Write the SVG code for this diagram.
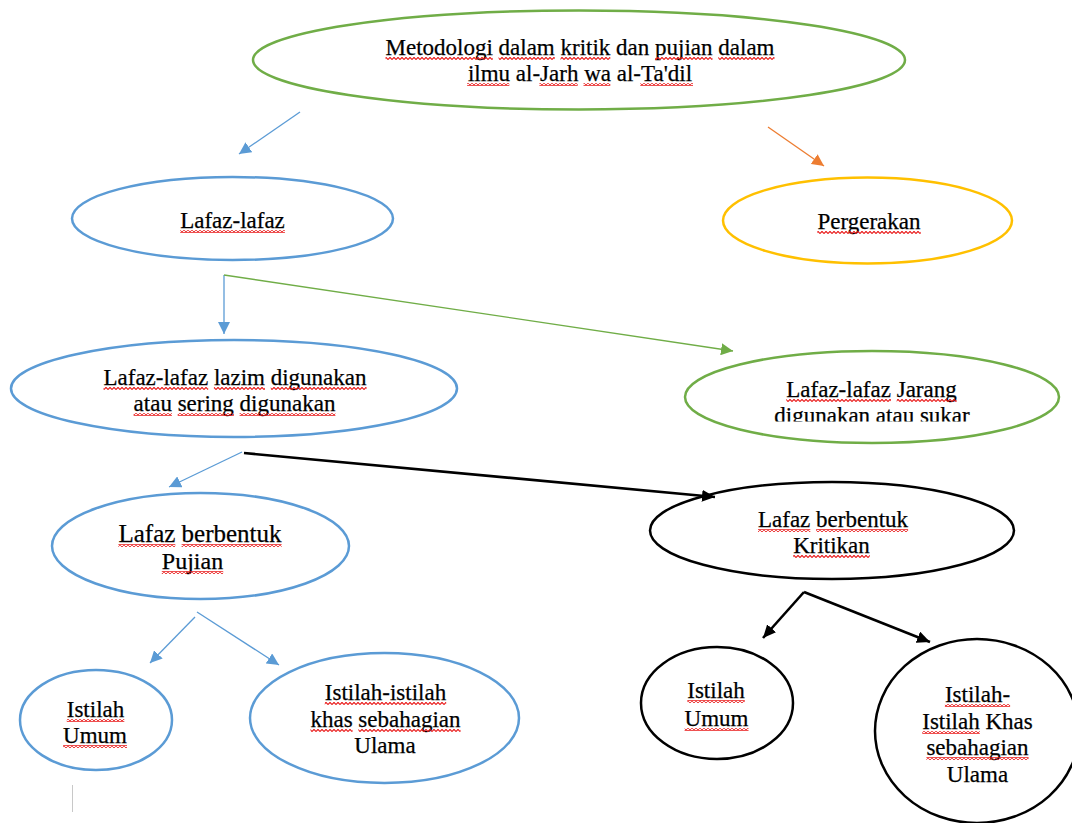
<svg xmlns="http://www.w3.org/2000/svg" width="1072" height="823" viewBox="0 0 1072 823">
<style>
.n{fill:none;stroke-width:2.5}
.bl{stroke:#5B9BD5}.gr{stroke:#70AD47}.yl{stroke:#FFC000}.bk{stroke:#000}.or{stroke:#ED7D31}
text{font-family:"Liberation Serif","Times New Roman",serif;font-size:23px;fill:#000;stroke:#000;stroke-width:0.25;text-anchor:middle}
.sq{fill:url(#wave)}
.c{fill:none;stroke-width:1.3}
.ck{fill:none;stroke:#000;stroke-width:2.6}
</style>
<defs>
<pattern id="wave" patternUnits="userSpaceOnUse" width="4" height="3">
<path d="M0,2.6 L2,0.4 L4,2.6" fill="none" stroke="#E81010" stroke-width="1.1"/>
</pattern>
<marker id="aB" markerUnits="userSpaceOnUse" markerWidth="13" markerHeight="12" refX="12" refY="6" orient="auto"><path d="M0,0 L12,6 L0,12 Z" fill="#5B9BD5"/></marker>
<marker id="aG" markerUnits="userSpaceOnUse" markerWidth="13" markerHeight="12" refX="12" refY="6" orient="auto"><path d="M0,0 L12,6 L0,12 Z" fill="#70AD47"/></marker>
<marker id="aO" markerUnits="userSpaceOnUse" markerWidth="13" markerHeight="12" refX="12" refY="6" orient="auto"><path d="M0,0 L12,6 L0,12 Z" fill="#ED7D31"/></marker>
<marker id="aK" markerUnits="userSpaceOnUse" markerWidth="14" markerHeight="12" refX="13" refY="6" orient="auto"><path d="M0,0 L13,6 L0,12 Z" fill="#000"/></marker>
<clipPath id="clipJ"><rect x="680" y="300" width="392" height="121.5"/></clipPath>
</defs>

<g id="connectors">
<line class="c bl" x1="300" y1="112" x2="239" y2="154" marker-end="url(#aB)"/>
<line class="c or" x1="768" y1="127" x2="824" y2="166" marker-end="url(#aO)"/>
<line class="c bl" x1="224" y1="275" x2="224" y2="334" marker-end="url(#aB)"/>
<line class="c gr" x1="224" y1="275" x2="733" y2="351" marker-end="url(#aG)"/>
<line class="c bl" x1="242" y1="452" x2="169" y2="487" marker-end="url(#aB)"/>
<line class="ck" x1="244" y1="453" x2="715" y2="497" marker-end="url(#aK)"/>
<line class="c bl" x1="195" y1="617" x2="150" y2="663" marker-end="url(#aB)"/>
<line class="c bl" x1="197" y1="612" x2="279" y2="665" marker-end="url(#aB)"/>
<line class="ck" x1="804" y1="592" x2="763" y2="638" marker-end="url(#aK)"/>
<line class="ck" x1="804" y1="592" x2="930" y2="642" marker-end="url(#aK)"/>
</g>

<g id="n-metodologi">
<ellipse class="n gr" cx="579" cy="60" rx="326" ry="49.5"/>
<text x="580" y="55">Metodologi dalam kritik dan pujian dalam</text>
<text x="580" y="81">ilmu al-Jarh wa al-Ta'dil</text>
<rect class="sq" x="385.5" y="57" width="107.3" height="3"/>
<rect class="sq" x="498.6" y="57" width="56.2" height="3"/>
<rect class="sq" x="560.5" y="57" width="49.8" height="3"/>
<rect class="sq" x="655" y="57" width="57.5" height="3"/>
<rect class="sq" x="718.3" y="57" width="56.2" height="3"/>
<rect class="sq" x="467.1" y="83" width="42.2" height="3"/>
<rect class="sq" x="539.4" y="83" width="38.3" height="3"/>
<rect class="sq" x="583.5" y="83" width="26.8" height="3"/>
<rect class="sq" x="640.3" y="83" width="52.7" height="3"/>
</g>

<g id="n-lafaz">
<ellipse class="n bl" cx="232.5" cy="218.5" rx="160.5" ry="41.5"/>
<text x="232.5" y="228">Lafaz-lafaz</text>
<rect class="sq" x="180.2" y="230" width="104.7" height="3"/>
</g>

<g id="n-pergerakan">
<ellipse class="n yl" cx="867.5" cy="220.5" rx="144.5" ry="43"/>
<text x="869" y="229">Pergerakan</text>
<rect class="sq" x="817.3" y="231" width="103.5" height="3"/>
</g>

<g id="n-lazim">
<ellipse class="n bl" cx="234" cy="388.5" rx="223" ry="48.5"/>
<text x="235" y="385">Lafaz-lafaz lazim digunakan</text>
<text x="234.5" y="411">atau sering digunakan</text>
<rect class="sq" x="103.5" y="387" width="104.7" height="3"/>
<rect class="sq" x="213.9" y="387" width="51.1" height="3"/>
<rect class="sq" x="270.8" y="387" width="95.8" height="3"/>
<rect class="sq" x="133.6" y="413" width="38.3" height="3"/>
<rect class="sq" x="177.7" y="413" width="56.2" height="3"/>
<rect class="sq" x="239.6" y="413" width="95.8" height="3"/>
</g>

<g id="n-jarang">
<ellipse class="n gr" cx="872" cy="397" rx="187" ry="46"/>
<text x="871.5" y="397">Lafaz-lafaz Jarang</text>
<text x="872" y="423" clip-path="url(#clipJ)">digunakan atau sukar</text>
<rect class="sq" x="786.3" y="399" width="104.7" height="3"/>
<rect class="sq" x="896.7" y="399" width="60" height="3"/>
</g>

<g id="n-pujian">
<ellipse class="n bl" cx="200.5" cy="546" rx="148.5" ry="53"/>
<text x="200" y="542" style="font-size:25px">Lafaz berbentuk</text>
<text x="192.5" y="569" style="font-size:24px">Pujian</text>
<rect class="sq" x="118.4" y="544" width="56.9" height="3"/>
<rect class="sq" x="181.6" y="544" width="100" height="3"/>
<rect class="sq" x="161.8" y="571" width="61.4" height="3"/>
</g>

<g id="n-kritikan">
<ellipse class="n bk" cx="832" cy="530.5" rx="182" ry="48.5"/>
<text x="833" y="527">Lafaz berbentuk</text>
<text x="831.5" y="553">Kritikan</text>
<rect class="sq" x="758" y="529" width="52.3" height="3"/>
<rect class="sq" x="816.1" y="529" width="92" height="3"/>
<rect class="sq" x="793.2" y="555" width="76.6" height="3"/>
</g>

<g id="n-umum-pujian">
<ellipse class="n bl" cx="96" cy="720" rx="76" ry="50"/>
<text x="95.5" y="717">Istilah</text>
<text x="95" y="743">Umum</text>
<rect class="sq" x="66.8" y="719" width="57.5" height="3"/>
<rect class="sq" x="63.1" y="745" width="63.9" height="3"/>
</g>

<g id="n-khas-pujian">
<ellipse class="n bl" cx="384.5" cy="718" rx="134.5" ry="65"/>
<text x="385.5" y="700">Istilah-istilah</text>
<text x="385.5" y="727">khas sebahagian</text>
<text x="385" y="753">Ulama</text>
<rect class="sq" x="324.8" y="702" width="121.4" height="3"/>
<rect class="sq" x="310.5" y="729" width="42.1" height="3"/>
<rect class="sq" x="358.4" y="729" width="102.2" height="3"/>
</g>

<g id="n-umum-kritikan">
<ellipse class="n bk" cx="717" cy="703" rx="76" ry="56"/>
<text x="716" y="698">Istilah</text>
<text x="716.5" y="726">Umum</text>
<rect class="sq" x="687.3" y="700" width="57.5" height="3"/>
<rect class="sq" x="684.6" y="728" width="63.9" height="3"/>
</g>

<g id="n-khas-kritikan">
<ellipse class="n bk" cx="977" cy="731" rx="102" ry="92"/>
<text x="977.5" y="702">Istilah-</text>
<text x="977.5" y="729">Istilah Khas</text>
<text x="977.5" y="755">sebahagian</text>
<text x="977.5" y="782">Ulama</text>
<rect class="sq" x="944.9" y="704" width="65.2" height="3"/>
<rect class="sq" x="922.3" y="731" width="57.5" height="3"/>
<rect class="sq" x="926.4" y="757" width="102.2" height="3"/>
</g>

<line x1="72.5" y1="785" x2="72.5" y2="812" stroke="#c8c8c8" stroke-width="1"/>
</svg>
